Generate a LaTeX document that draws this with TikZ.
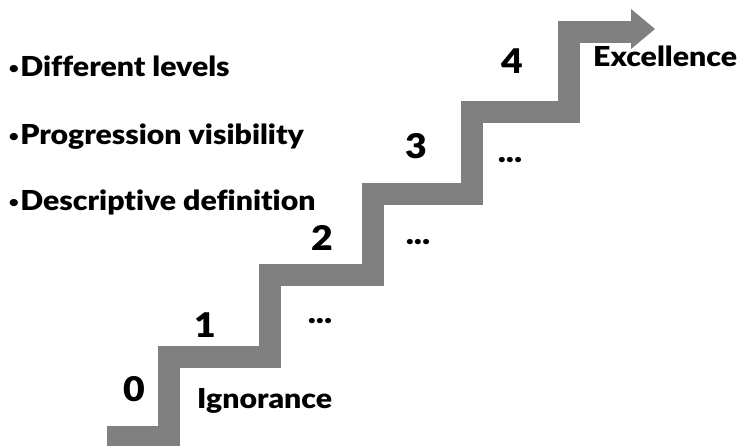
\documentclass[tikz,border=0pt]{standalone}
\usepackage{fontspec}
\setmainfont{Lato Black}[Ligatures=CommonOff, FakeStretch=1.1]
\definecolor{stair}{RGB}{128,128,128}
\newcommand{\sbul}{\raisebox{3.5pt}{\fontsize{15}{16}\selectfont •}\hspace{1.5pt}}
\begin{document}
\begin{tikzpicture}[x=1pt,y=-1pt,
  txt/.style={font=\fontsize{27.5}{30}\selectfont, inner sep=0pt, anchor=base west},
  dig/.style={font=\fontsize{34}{38}\selectfont, inner sep=0pt, anchor=center},
  dots/.style={font=\fontsize{31}{34}\selectfont, inner sep=0pt, anchor=center}]
\useasboundingbox (0,0) rectangle (738,446);
\begin{scope}
\clip (0,0) rectangle (738,446);
\draw[stair, line width=21.5pt, line join=miter]
  (107,437) -- (169,437) -- (169,357) -- (270,357) -- (270,275) -- (373,275)
  -- (373,194) -- (472,194) -- (472,112) -- (569,112) -- (569,32) -- (632,32);
\fill[stair] (631,9) -- (655,29) -- (631,49) -- cycle;
\end{scope}
\node[txt] (b1) at (9,77) {\sbul Different levels};
\node[txt] (b2) at (9,145) {\sbul Progression visibility};
\node[txt] (b3) at (9,211) {\sbul Descriptive definition};
\node[txt] (exc) at (593,67) {Excellence};
\node[txt] (ign) at (197,408) {Ignorance};
\node[dig] (d0) at (134,389.5) {0};
\node[dig] (d1) at (205,325.5) {1};
\node[dig] (d2) at (322,237.5) {2};
\node[dig] (d3) at (416,146) {3};
\node[dig] (d4) at (512,61.5) {4};
\node[dots] (e1) at (320,321) {...};
\node[dots] (e2) at (418,242) {...};
\node[dots] (e3) at (510,160) {...};
\end{tikzpicture}
\end{document}
